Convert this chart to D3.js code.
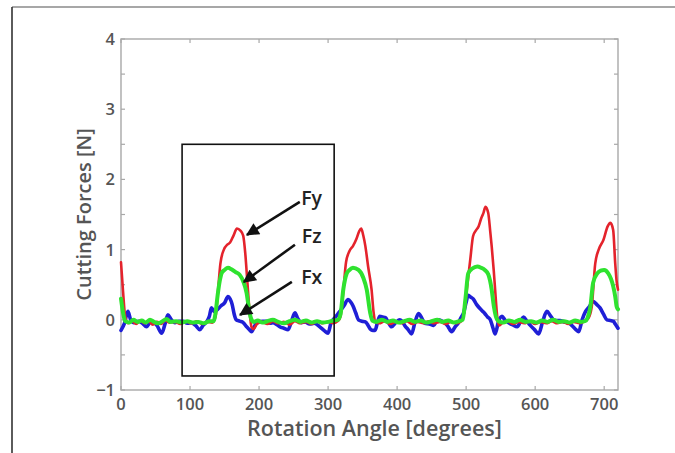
<!DOCTYPE html>
<html>
<head>
<meta charset="utf-8">
<script src="https://cdn.jsdelivr.net/npm/d3@7"></script>
<style>
  html, body { margin: 0; padding: 0; background: #fff; }
  svg { display: block; }
</style>
</head>
<body>
<svg id="chart" width="675" height="453"></svg>
<script>
// Cutting force components over one spindle sweep, [angle (deg), force (N)]
const fxSeries = [[0,-0.15],[5,-0.05],[10,0.12],[14,0.0],[18,-0.04],[25,-0.02],[31,-0.05],[37,-0.1],[42,-0.04],[46,-0.03],[52,-0.08],[59,-0.19],[64,-0.05],[68,0.07],[73,0.0],[78,-0.04],[84,-0.02],[90,-0.02],[96,-0.05],[102,-0.04],[108,-0.08],[114,-0.14],[119,-0.08],[124,-0.03],[128,0.05],[131,0.17],[135,0.12],[140,0.15],[145,0.2],[150,0.24],[155,0.33],[158,0.3],[161,0.22],[164,0.08],[167,0.0],[172,-0.02],[177,-0.04],[182,-0.1],[186,-0.14],[189,-0.17],[194,-0.08],[199,-0.03],[205,-0.02],[211,-0.02],[216,-0.05],[220,-0.04],[226,-0.07],[230,-0.1],[236,-0.12],[242,-0.14],[247,-0.02],[252,0.1],[256,0.02],[261,-0.04],[267,-0.03],[273,-0.06],[280,-0.05],[288,-0.1],[294,-0.15],[300,-0.19],[304,-0.05],[310,0.03],[317,0.12],[323,0.2],[329,0.29],[333,0.25],[336,0.2],[340,0.1],[344,0.0],[349,-0.02],[354,-0.03],[358,-0.08],[361,-0.13],[365,-0.15],[368,-0.15],[372,-0.02],[375,0.05],[379,0.04],[383,0.03],[387,-0.03],[392,-0.1],[398,-0.04],[404,0.0],[408,-0.03],[411,-0.08],[416,-0.14],[421,-0.2],[426,-0.03],[431,0.09],[436,0.02],[440,-0.05],[447,-0.06],[453,-0.08],[457,-0.02],[460,0.0],[465,-0.02],[469,-0.04],[474,-0.1],[479,-0.17],[484,-0.1],[489,-0.04],[493,0.04],[496,0.09],[500,0.25],[503,0.35],[507,0.32],[510,0.3],[515,0.22],[520,0.16],[524,0.12],[527,0.09],[531,0.04],[535,0.0],[539,-0.12],[542,-0.2],[547,-0.02],[552,0.05],[556,0.0],[561,-0.04],[567,-0.07],[574,-0.1],[579,-0.02],[583,0.04],[588,-0.02],[593,-0.08],[599,-0.14],[605,-0.2],[611,-0.02],[617,0.12],[622,0.06],[627,0.0],[632,-0.01],[636,-0.01],[642,-0.03],[648,-0.04],[655,-0.1],[659,-0.14],[663,-0.17],[668,0.0],[673,0.12],[678,0.18],[684,0.26],[689,0.22],[694,0.17],[699,0.08],[704,0.0],[709,-0.01],[713,-0.02],[716,-0.06],[720,-0.12]];

const fySeries = [[0,0.82],[3,0.4],[6,0.05],[10,-0.05],[16,-0.02],[22,-0.06],[28,-0.01],[34,-0.05],[40,-0.02],[46,-0.07],[52,-0.03],[58,-0.06],[64,-0.01],[70,-0.04],[78,-0.03],[86,-0.06],[94,-0.02],[102,-0.05],[110,-0.02],[118,-0.06],[126,-0.03],[132,-0.04],[137,0.05],[140,0.35],[144,0.8],[149,1.0],[154,1.07],[158,1.1],[163,1.2],[168,1.3],[173,1.27],[177,1.2],[180,0.95],[183,0.55],[186,0.15],[189,-0.1],[192,-0.13],[197,-0.06],[204,-0.03],[212,-0.06],[220,-0.02],[228,-0.05],[236,-0.03],[244,-0.07],[252,-0.02],[260,-0.05],[268,-0.03],[276,-0.06],[284,-0.02],[292,-0.05],[300,-0.03],[308,-0.05],[314,-0.02],[318,0.05],[322,0.4],[326,0.82],[331,0.98],[336,1.05],[341,1.15],[345,1.26],[348,1.3],[351,1.2],[354,1.05],[358,0.76],[363,0.43],[366,0.1],[369,-0.04],[374,-0.05],[382,-0.02],[390,-0.06],[398,-0.03],[406,-0.05],[414,-0.02],[422,-0.06],[430,-0.03],[438,-0.05],[446,-0.02],[454,-0.05],[462,-0.03],[470,-0.06],[478,-0.03],[486,-0.05],[493,-0.02],[497,0.1],[501,0.43],[506,0.86],[510,1.19],[514,1.27],[518,1.33],[522,1.45],[525,1.52],[528,1.61],[532,1.52],[535,1.25],[537,1.05],[540,0.7],[542,0.43],[545,0.05],[548,-0.08],[553,-0.04],[560,-0.02],[568,-0.06],[576,-0.03],[584,-0.05],[592,-0.02],[600,-0.06],[608,-0.03],[616,-0.05],[624,-0.02],[632,-0.05],[640,-0.03],[648,-0.06],[656,-0.03],[664,-0.05],[672,-0.02],[677,0.02],[682,0.19],[687,0.8],[692,1.0],[699,1.14],[705,1.33],[709,1.38],[713,1.28],[716,0.8],[718,0.55],[720,0.43]];

const fzSeries = [[0,0.3],[3,0.1],[6,-0.02],[12,-0.04],[18,0.0],[24,-0.03],[30,-0.01],[36,-0.04],[42,0.0],[48,-0.03],[54,-0.05],[60,-0.02],[66,0.01],[72,-0.03],[80,-0.02],[88,-0.04],[96,-0.02],[104,-0.04],[112,-0.03],[120,-0.05],[128,-0.02],[134,-0.02],[137,0.1],[140,0.35],[143,0.55],[146,0.67],[150,0.71],[155,0.74],[160,0.72],[166,0.68],[172,0.64],[177,0.55],[182,0.38],[185,0.18],[188,0.03],[192,-0.03],[198,-0.01],[205,-0.04],[212,-0.02],[220,0.0],[228,-0.03],[236,-0.05],[244,-0.02],[252,0.0],[260,-0.03],[268,-0.01],[276,-0.04],[284,-0.02],[292,-0.04],[300,-0.03],[308,-0.01],[314,0.0],[318,0.08],[322,0.43],[327,0.66],[331,0.71],[336,0.74],[344,0.71],[351,0.6],[356,0.43],[361,0.1],[364,-0.01],[370,-0.03],[378,0.0],[386,-0.03],[394,-0.01],[402,-0.04],[410,-0.02],[418,0.0],[426,-0.03],[434,-0.01],[442,-0.04],[450,-0.02],[458,0.0],[466,-0.03],[474,-0.01],[482,-0.04],[490,-0.02],[495,0.0],[499,0.3],[503,0.66],[509,0.73],[516,0.76],[522,0.74],[527,0.71],[532,0.65],[537,0.43],[540,0.2],[543,0.05],[547,-0.02],[554,-0.04],[562,-0.01],[570,-0.03],[578,0.0],[586,-0.03],[594,-0.02],[602,-0.04],[610,-0.01],[618,-0.03],[626,0.0],[634,-0.03],[642,-0.02],[650,-0.04],[658,-0.01],[666,-0.03],[672,-0.02],[676,0.03],[680,0.19],[684,0.53],[690,0.66],[695,0.7],[700,0.71],[706,0.66],[710,0.58],[713,0.48],[716,0.33],[718,0.19],[720,0.15]];

const xTicks = [0, 100, 200, 300, 400, 500, 600, 700];
const yTicks = [-1, 0, 1, 2, 3, 4];
const yMinorTicks = [-0.5, 0.5, 1.5, 2.5, 3.5];

// Highlighted first cutting cycle: [angleStart, angleEnd, forceTop, forceBottom]
const focusBox = [88.5, 308.8, 2.5, -0.8];

// Callouts: label, text anchor [deg, N], arrow tail [deg, N], arrow tip [deg, N]
const callouts = [
  { label: "Fy", text: [261, 1.64], tail: [259, 1.68], tip: [182.5, 1.21] },
  { label: "Fz", text: [262, 1.09], tail: [252, 1.07], tip: [178, 0.54] },
  { label: "Fx", text: [261, 0.51], tail: [247.5, 0.54], tip: [172.5, 0.07] }
];

const svg = d3.select("#chart");
const W = 675, H = 453;
const plot = { left: 121, right: 618, top: 39, bottom: 390 };

svg.append("rect").attr("width", W).attr("height", H).attr("fill", "#fff");

// outer page frame (top and left edges)
svg.append("line").attr("x1", 12).attr("x2", W).attr("y1", 7).attr("y2", 7)
  .attr("stroke", "#8a8a8a").attr("stroke-width", 1.6);
svg.append("line").attr("x1", 12).attr("x2", 12).attr("y1", 7).attr("y2", H)
  .attr("stroke", "#333").attr("stroke-width", 1.6);

const x = d3.scaleLinear().domain([0, 720]).range([plot.left, plot.right]);
const y = d3.scaleLinear().domain([-1, 4]).range([plot.bottom, plot.top]);

const axisColor = "#a8a8a8";
const labelColor = "#555";
const font = "'Open Sans', 'DejaVu Sans', sans-serif";

// axes box
svg.append("rect")
  .attr("x", plot.left).attr("y", plot.top)
  .attr("width", plot.right - plot.left).attr("height", plot.bottom - plot.top)
  .attr("fill", "none").attr("stroke", axisColor).attr("stroke-width", 1.4);

// inward ticks on all four sides
const tickLen = 4;
const axes = svg.append("g").attr("stroke", axisColor).attr("stroke-width", 1.2);
xTicks.forEach(t => {
  axes.append("line").attr("x1", x(t)).attr("x2", x(t)).attr("y1", plot.bottom).attr("y2", plot.bottom - tickLen);
  axes.append("line").attr("x1", x(t)).attr("x2", x(t)).attr("y1", plot.top).attr("y2", plot.top + tickLen);
});
yTicks.concat(yMinorTicks).forEach(t => {
  axes.append("line").attr("x1", plot.left).attr("x2", plot.left + tickLen).attr("y1", y(t)).attr("y2", y(t));
  axes.append("line").attr("x1", plot.right).attr("x2", plot.right - tickLen).attr("y1", y(t)).attr("y2", y(t));
});

// tick labels
svg.append("g").selectAll("text").data(xTicks).join("text")
  .attr("x", d => x(d)).attr("y", plot.bottom + 20)
  .attr("text-anchor", "middle")
  .attr("font-family", font).attr("font-size", 16.5).attr("font-weight", 600)
  .attr("fill", labelColor).text(d => d);

svg.append("g").selectAll("text").data(yTicks).join("text")
  .attr("x", plot.left - 6).attr("y", d => y(d)).attr("dy", "0.36em")
  .attr("text-anchor", "end")
  .attr("font-family", font).attr("font-size", 16.5).attr("font-weight", 600)
  .attr("fill", labelColor).text(d => d < 0 ? "\u2212" + Math.abs(d) : d);

// axis titles
svg.append("text")
  .attr("x", (plot.left + plot.right) / 2 + 5).attr("y", 436)
  .attr("text-anchor", "middle")
  .attr("font-family", font).attr("font-size", 21.5).attr("font-weight", 600)
  .attr("fill", labelColor).text("Rotation Angle [degrees]");

svg.append("text")
  .attr("transform", `translate(91, ${(plot.top + plot.bottom) / 2}) rotate(-90)`)
  .attr("text-anchor", "middle")
  .attr("font-family", font).attr("font-size", 20).attr("font-weight", 600)
  .attr("fill", labelColor).text("Cutting Forces [N]");

// force traces
const line = d3.line().x(d => x(d[0])).y(d => y(d[1])).curve(d3.curveMonotoneX);
const traces = [
  { data: fxSeries, color: "#1f1fd6", width: 3.6 },
  { data: fySeries, color: "#e4232c", width: 2.6 },
  { data: fzSeries, color: "#2fe22f", width: 4 }
];
svg.append("g").selectAll("path").data(traces).join("path")
  .attr("d", d => line(d.data))
  .attr("fill", "none")
  .attr("stroke", d => d.color)
  .attr("stroke-width", d => d.width)
  .attr("stroke-linejoin", "round")
  .attr("stroke-linecap", "round");

// highlighted cycle
svg.append("rect")
  .attr("x", x(focusBox[0])).attr("y", y(focusBox[2]))
  .attr("width", x(focusBox[1]) - x(focusBox[0]))
  .attr("height", y(focusBox[3]) - y(focusBox[2]))
  .attr("fill", "none").attr("stroke", "#111").attr("stroke-width", 1.6);

// callout arrows
svg.append("defs").append("marker")
  .attr("id", "head").attr("viewBox", "0 0 10 10")
  .attr("refX", 9).attr("refY", 5)
  .attr("markerWidth", 5.5).attr("markerHeight", 5)
  .attr("markerUnits", "strokeWidth")
  .attr("orient", "auto")
  .append("path").attr("d", "M0,0 L10,5 L0,10 Z").attr("fill", "#111");

const co = svg.append("g");
callouts.forEach(c => {
  co.append("line")
    .attr("x1", x(c.tail[0])).attr("y1", y(c.tail[1]))
    .attr("x2", x(c.tip[0])).attr("y2", y(c.tip[1]))
    .attr("stroke", "#111").attr("stroke-width", 2.6)
    .attr("marker-end", "url(#head)");
  co.append("text")
    .attr("x", x(c.text[0])).attr("y", y(c.text[1]))
    .attr("font-family", font).attr("font-size", 19.5).attr("font-weight", 600)
    .attr("fill", "#222").text(c.label);
});
</script>
</body>
</html>
